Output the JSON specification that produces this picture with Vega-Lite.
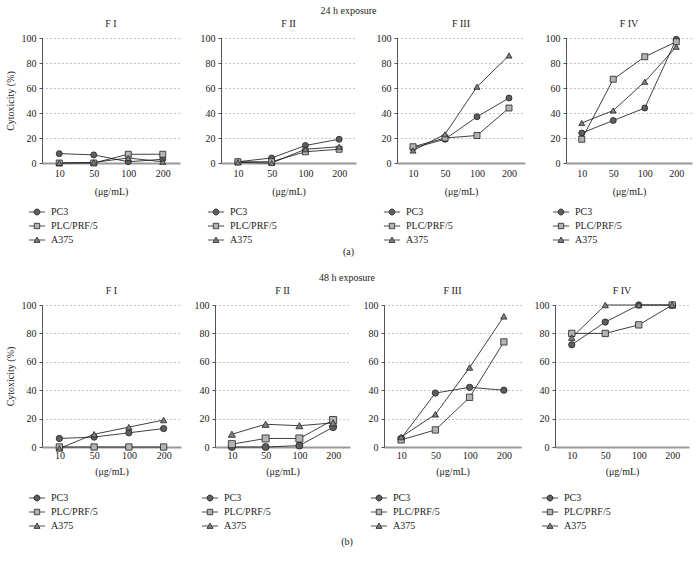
{
  "$schema": "https://vega.github.io/schema/vega-lite/v6.json",
  "padding": {"left": 5, "right": 5, "top": 6, "bottom": 5},
  "background": "white",
  "data": {"values": [
    {"exposure":"24h","panel":"F I","line":"PC3","conc":"10","value":7.5},
    {"exposure":"24h","panel":"F I","line":"PC3","conc":"50","value":6.5},
    {"exposure":"24h","panel":"F I","line":"PC3","conc":"100","value":1},
    {"exposure":"24h","panel":"F I","line":"PC3","conc":"200","value":3},
    {"exposure":"24h","panel":"F I","line":"PLC/PRF/5","conc":"10","value":0},
    {"exposure":"24h","panel":"F I","line":"PLC/PRF/5","conc":"50","value":0},
    {"exposure":"24h","panel":"F I","line":"PLC/PRF/5","conc":"100","value":7},
    {"exposure":"24h","panel":"F I","line":"PLC/PRF/5","conc":"200","value":7},
    {"exposure":"24h","panel":"F I","line":"A375","conc":"10","value":0},
    {"exposure":"24h","panel":"F I","line":"A375","conc":"50","value":0.5},
    {"exposure":"24h","panel":"F I","line":"A375","conc":"100","value":4},
    {"exposure":"24h","panel":"F I","line":"A375","conc":"200","value":1},
    {"exposure":"24h","panel":"F II","line":"PC3","conc":"10","value":1},
    {"exposure":"24h","panel":"F II","line":"PC3","conc":"50","value":4},
    {"exposure":"24h","panel":"F II","line":"PC3","conc":"100","value":14},
    {"exposure":"24h","panel":"F II","line":"PC3","conc":"200","value":19},
    {"exposure":"24h","panel":"F II","line":"PLC/PRF/5","conc":"10","value":1},
    {"exposure":"24h","panel":"F II","line":"PLC/PRF/5","conc":"50","value":1},
    {"exposure":"24h","panel":"F II","line":"PLC/PRF/5","conc":"100","value":9},
    {"exposure":"24h","panel":"F II","line":"PLC/PRF/5","conc":"200","value":11},
    {"exposure":"24h","panel":"F II","line":"A375","conc":"10","value":0.5},
    {"exposure":"24h","panel":"F II","line":"A375","conc":"50","value":0},
    {"exposure":"24h","panel":"F II","line":"A375","conc":"100","value":11},
    {"exposure":"24h","panel":"F II","line":"A375","conc":"200","value":13},
    {"exposure":"24h","panel":"F III","line":"PC3","conc":"10","value":12},
    {"exposure":"24h","panel":"F III","line":"PC3","conc":"50","value":19},
    {"exposure":"24h","panel":"F III","line":"PC3","conc":"100","value":37},
    {"exposure":"24h","panel":"F III","line":"PC3","conc":"200","value":52},
    {"exposure":"24h","panel":"F III","line":"PLC/PRF/5","conc":"10","value":13},
    {"exposure":"24h","panel":"F III","line":"PLC/PRF/5","conc":"50","value":20},
    {"exposure":"24h","panel":"F III","line":"PLC/PRF/5","conc":"100","value":22},
    {"exposure":"24h","panel":"F III","line":"PLC/PRF/5","conc":"200","value":44},
    {"exposure":"24h","panel":"F III","line":"A375","conc":"10","value":10},
    {"exposure":"24h","panel":"F III","line":"A375","conc":"50","value":23},
    {"exposure":"24h","panel":"F III","line":"A375","conc":"100","value":61},
    {"exposure":"24h","panel":"F III","line":"A375","conc":"200","value":86},
    {"exposure":"24h","panel":"F IV","line":"PC3","conc":"10","value":24},
    {"exposure":"24h","panel":"F IV","line":"PC3","conc":"50","value":34},
    {"exposure":"24h","panel":"F IV","line":"PC3","conc":"100","value":44},
    {"exposure":"24h","panel":"F IV","line":"PC3","conc":"200","value":99},
    {"exposure":"24h","panel":"F IV","line":"PLC/PRF/5","conc":"10","value":19},
    {"exposure":"24h","panel":"F IV","line":"PLC/PRF/5","conc":"50","value":67},
    {"exposure":"24h","panel":"F IV","line":"PLC/PRF/5","conc":"100","value":85},
    {"exposure":"24h","panel":"F IV","line":"PLC/PRF/5","conc":"200","value":97},
    {"exposure":"24h","panel":"F IV","line":"A375","conc":"10","value":32},
    {"exposure":"24h","panel":"F IV","line":"A375","conc":"50","value":42},
    {"exposure":"24h","panel":"F IV","line":"A375","conc":"100","value":65},
    {"exposure":"24h","panel":"F IV","line":"A375","conc":"200","value":93},
    {"exposure":"48h","panel":"F I","line":"PC3","conc":"10","value":6},
    {"exposure":"48h","panel":"F I","line":"PC3","conc":"50","value":7},
    {"exposure":"48h","panel":"F I","line":"PC3","conc":"100","value":10},
    {"exposure":"48h","panel":"F I","line":"PC3","conc":"200","value":13},
    {"exposure":"48h","panel":"F I","line":"PLC/PRF/5","conc":"10","value":0},
    {"exposure":"48h","panel":"F I","line":"PLC/PRF/5","conc":"50","value":0},
    {"exposure":"48h","panel":"F I","line":"PLC/PRF/5","conc":"100","value":0},
    {"exposure":"48h","panel":"F I","line":"PLC/PRF/5","conc":"200","value":0},
    {"exposure":"48h","panel":"F I","line":"A375","conc":"10","value":-1},
    {"exposure":"48h","panel":"F I","line":"A375","conc":"50","value":9},
    {"exposure":"48h","panel":"F I","line":"A375","conc":"100","value":14},
    {"exposure":"48h","panel":"F I","line":"A375","conc":"200","value":19},
    {"exposure":"48h","panel":"F II","line":"PC3","conc":"10","value":0},
    {"exposure":"48h","panel":"F II","line":"PC3","conc":"50","value":0},
    {"exposure":"48h","panel":"F II","line":"PC3","conc":"100","value":1},
    {"exposure":"48h","panel":"F II","line":"PC3","conc":"200","value":14},
    {"exposure":"48h","panel":"F II","line":"PLC/PRF/5","conc":"10","value":2},
    {"exposure":"48h","panel":"F II","line":"PLC/PRF/5","conc":"50","value":6},
    {"exposure":"48h","panel":"F II","line":"PLC/PRF/5","conc":"100","value":6},
    {"exposure":"48h","panel":"F II","line":"PLC/PRF/5","conc":"200","value":19},
    {"exposure":"48h","panel":"F II","line":"A375","conc":"10","value":9},
    {"exposure":"48h","panel":"F II","line":"A375","conc":"50","value":16},
    {"exposure":"48h","panel":"F II","line":"A375","conc":"100","value":15},
    {"exposure":"48h","panel":"F II","line":"A375","conc":"200","value":17},
    {"exposure":"48h","panel":"F III","line":"PC3","conc":"10","value":6},
    {"exposure":"48h","panel":"F III","line":"PC3","conc":"50","value":38},
    {"exposure":"48h","panel":"F III","line":"PC3","conc":"100","value":42},
    {"exposure":"48h","panel":"F III","line":"PC3","conc":"200","value":40},
    {"exposure":"48h","panel":"F III","line":"PLC/PRF/5","conc":"10","value":5},
    {"exposure":"48h","panel":"F III","line":"PLC/PRF/5","conc":"50","value":12},
    {"exposure":"48h","panel":"F III","line":"PLC/PRF/5","conc":"100","value":35},
    {"exposure":"48h","panel":"F III","line":"PLC/PRF/5","conc":"200","value":74},
    {"exposure":"48h","panel":"F III","line":"A375","conc":"10","value":7},
    {"exposure":"48h","panel":"F III","line":"A375","conc":"50","value":23},
    {"exposure":"48h","panel":"F III","line":"A375","conc":"100","value":56},
    {"exposure":"48h","panel":"F III","line":"A375","conc":"200","value":92},
    {"exposure":"48h","panel":"F IV","line":"PC3","conc":"10","value":72},
    {"exposure":"48h","panel":"F IV","line":"PC3","conc":"50","value":88},
    {"exposure":"48h","panel":"F IV","line":"PC3","conc":"100","value":100},
    {"exposure":"48h","panel":"F IV","line":"PC3","conc":"200","value":100},
    {"exposure":"48h","panel":"F IV","line":"PLC/PRF/5","conc":"10","value":80},
    {"exposure":"48h","panel":"F IV","line":"PLC/PRF/5","conc":"50","value":80},
    {"exposure":"48h","panel":"F IV","line":"PLC/PRF/5","conc":"100","value":86},
    {"exposure":"48h","panel":"F IV","line":"PLC/PRF/5","conc":"200","value":100},
    {"exposure":"48h","panel":"F IV","line":"A375","conc":"10","value":77},
    {"exposure":"48h","panel":"F IV","line":"A375","conc":"50","value":100},
    {"exposure":"48h","panel":"F IV","line":"A375","conc":"100","value":100},
    {"exposure":"48h","panel":"F IV","line":"A375","conc":"200","value":100}
  ]},
  "spacing": 16,
  "vconcat": [
    {
      "title": {"text": "(a)", "orient": "bottom", "anchor": "middle", "offset": 2},
      "vconcat": [{
        "title": {"text": "24 h exposure", "anchor": "middle", "offset": 3},
        "spacing": 20,
        "resolve": {"scale": {"shape": "independent", "color": "independent"}},
        "hconcat": [
          {"title": "F I", "width": 138, "height": 125,
           "transform": [{"filter": "datum.exposure === '24h' && datum.panel === 'F I'"}],
           "encoding": {
             "x": {"field": "conc", "type": "ordinal", "sort": ["10","50","100","200"], "scale": {"type": "point", "padding": 0.5}, "axis": {"title": "(μg/mL)"}},
             "y": {"field": "value", "type": "quantitative", "scale": {"domain": [0, 100]}, "axis": {"title": "Cytoxicity (%)"}}
           },
           "resolve": {"scale": {"shape": "independent", "color": "independent"}},
           "layer": [
             {"mark": {"type": "line", "color": "#111", "strokeWidth": 0.8}, "encoding": {"detail": {"field": "line"}}},
             {"mark": {"type": "point", "filled": true, "size": 36, "stroke": "#222", "strokeWidth": 0.8, "opacity": 1},
              "encoding": {
                "shape": {"field": "line", "type": "nominal", "scale": {"domain": ["PC3","PLC/PRF/5","A375"], "range": ["circle","square","triangle-up"]}, "legend": null},
                "color": {"field": "line", "type": "nominal", "scale": {"domain": ["PC3","PLC/PRF/5","A375"], "range": ["#5e5e5e","#b3b3b3","#808080"]}, "legend": null}
              }},
             {"mark": {"type": "point", "filled": true, "size": 36, "stroke": "#222", "strokeWidth": 0.8, "opacity": 0},
              "encoding": {
                "shape": {"field": "line", "type": "nominal", "scale": {"domain": ["PC3","PLC/PRF/5","A375"], "range": ["M-2.7,0H-1M1,0H2.7M1,0A1,1,0,1,1,-1,0A1,1,0,1,1,1,0Z","M-2.7,0H-0.9M0.9,0H2.7M-0.9,-0.9H0.9V0.9H-0.9Z","M-2.7,0H-0.56M0.56,0H2.7M0,-1L1,0.8H-1Z"]},
                  "legend": {"title": null, "orient": "none", "legendX": -10, "legendY": 169, "direction": "vertical",
                    "encode": {"symbols": {"update": {"stroke": {"value": "#222"}, "strokeWidth": {"value": 0.8}, "strokeOpacity": {"value": 1}, "opacity": {"value": 1}}}}}},
                "color": {"field": "line", "type": "nominal", "scale": {"domain": ["PC3","PLC/PRF/5","A375"], "range": ["#5e5e5e","#b3b3b3","#808080"]},
                  "legend": {"title": null, "orient": "none", "legendX": -10, "legendY": 169, "direction": "vertical",
                    "encode": {"symbols": {"update": {"stroke": {"value": "#222"}, "strokeWidth": {"value": 0.8}, "strokeOpacity": {"value": 1}, "opacity": {"value": 1}}}}}}
              }}
           ]},
          {"title": "F II", "width": 135, "height": 125,
           "transform": [{"filter": "datum.exposure === '24h' && datum.panel === 'F II'"}],
           "encoding": {
             "x": {"field": "conc", "type": "ordinal", "sort": ["10","50","100","200"], "scale": {"type": "point", "padding": 0.5}, "axis": {"title": "(μg/mL)"}},
             "y": {"field": "value", "type": "quantitative", "scale": {"domain": [0, 100]}, "axis": {"title": null}}
           },
           "resolve": {"scale": {"shape": "independent", "color": "independent"}},
           "layer": [
             {"mark": {"type": "line", "color": "#111", "strokeWidth": 0.8}, "encoding": {"detail": {"field": "line"}}},
             {"mark": {"type": "point", "filled": true, "size": 36, "stroke": "#222", "strokeWidth": 0.8, "opacity": 1},
              "encoding": {
                "shape": {"field": "line", "type": "nominal", "scale": {"domain": ["PC3","PLC/PRF/5","A375"], "range": ["circle","square","triangle-up"]}, "legend": null},
                "color": {"field": "line", "type": "nominal", "scale": {"domain": ["PC3","PLC/PRF/5","A375"], "range": ["#5e5e5e","#b3b3b3","#808080"]}, "legend": null}
              }},
             {"mark": {"type": "point", "filled": true, "size": 36, "stroke": "#222", "strokeWidth": 0.8, "opacity": 0},
              "encoding": {
                "shape": {"field": "line", "type": "nominal", "scale": {"domain": ["PC3","PLC/PRF/5","A375"], "range": ["M-2.7,0H-1M1,0H2.7M1,0A1,1,0,1,1,-1,0A1,1,0,1,1,1,0Z","M-2.7,0H-0.9M0.9,0H2.7M-0.9,-0.9H0.9V0.9H-0.9Z","M-2.7,0H-0.56M0.56,0H2.7M0,-1L1,0.8H-1Z"]},
                  "legend": {"title": null, "orient": "none", "legendX": -10, "legendY": 169, "direction": "vertical",
                    "encode": {"symbols": {"update": {"stroke": {"value": "#222"}, "strokeWidth": {"value": 0.8}, "strokeOpacity": {"value": 1}, "opacity": {"value": 1}}}}}},
                "color": {"field": "line", "type": "nominal", "scale": {"domain": ["PC3","PLC/PRF/5","A375"], "range": ["#5e5e5e","#b3b3b3","#808080"]},
                  "legend": {"title": null, "orient": "none", "legendX": -10, "legendY": 169, "direction": "vertical",
                    "encode": {"symbols": {"update": {"stroke": {"value": "#222"}, "strokeWidth": {"value": 0.8}, "strokeOpacity": {"value": 1}, "opacity": {"value": 1}}}}}}
              }}
           ]},
          {"title": "F III", "width": 128, "height": 125,
           "transform": [{"filter": "datum.exposure === '24h' && datum.panel === 'F III'"}],
           "encoding": {
             "x": {"field": "conc", "type": "ordinal", "sort": ["10","50","100","200"], "scale": {"type": "point", "padding": 0.5}, "axis": {"title": "(μg/mL)"}},
             "y": {"field": "value", "type": "quantitative", "scale": {"domain": [0, 100]}, "axis": {"title": null}}
           },
           "resolve": {"scale": {"shape": "independent", "color": "independent"}},
           "layer": [
             {"mark": {"type": "line", "color": "#111", "strokeWidth": 0.8}, "encoding": {"detail": {"field": "line"}}},
             {"mark": {"type": "point", "filled": true, "size": 36, "stroke": "#222", "strokeWidth": 0.8, "opacity": 1},
              "encoding": {
                "shape": {"field": "line", "type": "nominal", "scale": {"domain": ["PC3","PLC/PRF/5","A375"], "range": ["circle","square","triangle-up"]}, "legend": null},
                "color": {"field": "line", "type": "nominal", "scale": {"domain": ["PC3","PLC/PRF/5","A375"], "range": ["#5e5e5e","#b3b3b3","#808080"]}, "legend": null}
              }},
             {"mark": {"type": "point", "filled": true, "size": 36, "stroke": "#222", "strokeWidth": 0.8, "opacity": 0},
              "encoding": {
                "shape": {"field": "line", "type": "nominal", "scale": {"domain": ["PC3","PLC/PRF/5","A375"], "range": ["M-2.7,0H-1M1,0H2.7M1,0A1,1,0,1,1,-1,0A1,1,0,1,1,1,0Z","M-2.7,0H-0.9M0.9,0H2.7M-0.9,-0.9H0.9V0.9H-0.9Z","M-2.7,0H-0.56M0.56,0H2.7M0,-1L1,0.8H-1Z"]},
                  "legend": {"title": null, "orient": "none", "legendX": -10, "legendY": 169, "direction": "vertical",
                    "encode": {"symbols": {"update": {"stroke": {"value": "#222"}, "strokeWidth": {"value": 0.8}, "strokeOpacity": {"value": 1}, "opacity": {"value": 1}}}}}},
                "color": {"field": "line", "type": "nominal", "scale": {"domain": ["PC3","PLC/PRF/5","A375"], "range": ["#5e5e5e","#b3b3b3","#808080"]},
                  "legend": {"title": null, "orient": "none", "legendX": -10, "legendY": 169, "direction": "vertical",
                    "encode": {"symbols": {"update": {"stroke": {"value": "#222"}, "strokeWidth": {"value": 0.8}, "strokeOpacity": {"value": 1}, "opacity": {"value": 1}}}}}}
              }}
           ]},
          {"title": "F IV", "width": 126, "height": 125,
           "transform": [{"filter": "datum.exposure === '24h' && datum.panel === 'F IV'"}],
           "encoding": {
             "x": {"field": "conc", "type": "ordinal", "sort": ["10","50","100","200"], "scale": {"type": "point", "padding": 0.5}, "axis": {"title": "(μg/mL)"}},
             "y": {"field": "value", "type": "quantitative", "scale": {"domain": [0, 100]}, "axis": {"title": null}}
           },
           "resolve": {"scale": {"shape": "independent", "color": "independent"}},
           "layer": [
             {"mark": {"type": "line", "color": "#111", "strokeWidth": 0.8}, "encoding": {"detail": {"field": "line"}}},
             {"mark": {"type": "point", "filled": true, "size": 36, "stroke": "#222", "strokeWidth": 0.8, "opacity": 1},
              "encoding": {
                "shape": {"field": "line", "type": "nominal", "scale": {"domain": ["PC3","PLC/PRF/5","A375"], "range": ["circle","square","triangle-up"]}, "legend": null},
                "color": {"field": "line", "type": "nominal", "scale": {"domain": ["PC3","PLC/PRF/5","A375"], "range": ["#5e5e5e","#b3b3b3","#808080"]}, "legend": null}
              }},
             {"mark": {"type": "point", "filled": true, "size": 36, "stroke": "#222", "strokeWidth": 0.8, "opacity": 0},
              "encoding": {
                "shape": {"field": "line", "type": "nominal", "scale": {"domain": ["PC3","PLC/PRF/5","A375"], "range": ["M-2.7,0H-1M1,0H2.7M1,0A1,1,0,1,1,-1,0A1,1,0,1,1,1,0Z","M-2.7,0H-0.9M0.9,0H2.7M-0.9,-0.9H0.9V0.9H-0.9Z","M-2.7,0H-0.56M0.56,0H2.7M0,-1L1,0.8H-1Z"]},
                  "legend": {"title": null, "orient": "none", "legendX": -10, "legendY": 169, "direction": "vertical",
                    "encode": {"symbols": {"update": {"stroke": {"value": "#222"}, "strokeWidth": {"value": 0.8}, "strokeOpacity": {"value": 1}, "opacity": {"value": 1}}}}}},
                "color": {"field": "line", "type": "nominal", "scale": {"domain": ["PC3","PLC/PRF/5","A375"], "range": ["#5e5e5e","#b3b3b3","#808080"]},
                  "legend": {"title": null, "orient": "none", "legendX": -10, "legendY": 169, "direction": "vertical",
                    "encode": {"symbols": {"update": {"stroke": {"value": "#222"}, "strokeWidth": {"value": 0.8}, "strokeOpacity": {"value": 1}, "opacity": {"value": 1}}}}}}
              }}
           ]}
        ]
      }]
    },
    {
      "title": {"text": "(b)", "orient": "bottom", "anchor": "middle", "offset": 6},
      "vconcat": [{
        "title": {"text": "48 h exposure", "anchor": "middle", "offset": 3},
        "spacing": 13,
        "resolve": {"scale": {"shape": "independent", "color": "independent"}},
        "hconcat": [
          {"title": "F I", "width": 139, "height": 142,
           "transform": [{"filter": "datum.exposure === '48h' && datum.panel === 'F I'"}],
           "encoding": {
             "x": {"field": "conc", "type": "ordinal", "sort": ["10","50","100","200"], "scale": {"type": "point", "padding": 0.5}, "axis": {"title": "(μg/mL)", "titlePadding": 6, "labelPadding": 3}},
             "y": {"field": "value", "type": "quantitative", "scale": {"domain": [0, 100]}, "axis": {"title": "Cytoxicity (%)"}}
           },
           "resolve": {"scale": {"shape": "independent", "color": "independent"}},
           "layer": [
             {"mark": {"type": "line", "color": "#111", "strokeWidth": 0.8}, "encoding": {"detail": {"field": "line"}}},
             {"mark": {"type": "point", "filled": true, "size": 40, "stroke": "#222", "strokeWidth": 0.8, "opacity": 1},
              "encoding": {
                "shape": {"field": "line", "type": "nominal", "scale": {"domain": ["PC3","PLC/PRF/5","A375"], "range": ["circle","square","triangle-up"]}, "legend": null},
                "color": {"field": "line", "type": "nominal", "scale": {"domain": ["PC3","PLC/PRF/5","A375"], "range": ["#5e5e5e","#b3b3b3","#808080"]}, "legend": null}
              }},
             {"mark": {"type": "point", "filled": true, "size": 36, "stroke": "#222", "strokeWidth": 0.8, "opacity": 0},
              "encoding": {
                "shape": {"field": "line", "type": "nominal", "scale": {"domain": ["PC3","PLC/PRF/5","A375"], "range": ["M-2.7,0H-1M1,0H2.7M1,0A1,1,0,1,1,-1,0A1,1,0,1,1,1,0Z","M-2.7,0H-0.9M0.9,0H2.7M-0.9,-0.9H0.9V0.9H-0.9Z","M-2.7,0H-0.56M0.56,0H2.7M0,-1L1,0.8H-1Z"]},
                  "legend": {"title": null, "orient": "none", "legendX": -10, "legendY": 188, "direction": "vertical",
                    "encode": {"symbols": {"update": {"stroke": {"value": "#222"}, "strokeWidth": {"value": 0.8}, "strokeOpacity": {"value": 1}, "opacity": {"value": 1}}}}}},
                "color": {"field": "line", "type": "nominal", "scale": {"domain": ["PC3","PLC/PRF/5","A375"], "range": ["#5e5e5e","#b3b3b3","#808080"]},
                  "legend": {"title": null, "orient": "none", "legendX": -10, "legendY": 188, "direction": "vertical",
                    "encode": {"symbols": {"update": {"stroke": {"value": "#222"}, "strokeWidth": {"value": 0.8}, "strokeOpacity": {"value": 1}, "opacity": {"value": 1}}}}}}
              }}
           ]},
          {"title": "F II", "width": 135, "height": 142,
           "transform": [{"filter": "datum.exposure === '48h' && datum.panel === 'F II'"}],
           "encoding": {
             "x": {"field": "conc", "type": "ordinal", "sort": ["10","50","100","200"], "scale": {"type": "point", "padding": 0.5}, "axis": {"title": "(μg/mL)", "titlePadding": 6, "labelPadding": 3}},
             "y": {"field": "value", "type": "quantitative", "scale": {"domain": [0, 100]}, "axis": {"title": null}}
           },
           "resolve": {"scale": {"shape": "independent", "color": "independent"}},
           "layer": [
             {"mark": {"type": "line", "color": "#111", "strokeWidth": 0.8}, "encoding": {"detail": {"field": "line"}}},
             {"mark": {"type": "point", "filled": true, "size": 50, "stroke": "#222", "strokeWidth": 0.8, "opacity": 1},
              "encoding": {
                "shape": {"field": "line", "type": "nominal", "scale": {"domain": ["PC3","PLC/PRF/5","A375"], "range": ["circle","square","triangle-up"]}, "legend": null},
                "color": {"field": "line", "type": "nominal", "scale": {"domain": ["PC3","PLC/PRF/5","A375"], "range": ["#5e5e5e","#b3b3b3","#808080"]}, "legend": null}
              }},
             {"mark": {"type": "point", "filled": true, "size": 36, "stroke": "#222", "strokeWidth": 0.8, "opacity": 0},
              "encoding": {
                "shape": {"field": "line", "type": "nominal", "scale": {"domain": ["PC3","PLC/PRF/5","A375"], "range": ["M-2.7,0H-1M1,0H2.7M1,0A1,1,0,1,1,-1,0A1,1,0,1,1,1,0Z","M-2.7,0H-0.9M0.9,0H2.7M-0.9,-0.9H0.9V0.9H-0.9Z","M-2.7,0H-0.56M0.56,0H2.7M0,-1L1,0.8H-1Z"]},
                  "legend": {"title": null, "orient": "none", "legendX": -10, "legendY": 188, "direction": "vertical",
                    "encode": {"symbols": {"update": {"stroke": {"value": "#222"}, "strokeWidth": {"value": 0.8}, "strokeOpacity": {"value": 1}, "opacity": {"value": 1}}}}}},
                "color": {"field": "line", "type": "nominal", "scale": {"domain": ["PC3","PLC/PRF/5","A375"], "range": ["#5e5e5e","#b3b3b3","#808080"]},
                  "legend": {"title": null, "orient": "none", "legendX": -10, "legendY": 188, "direction": "vertical",
                    "encode": {"symbols": {"update": {"stroke": {"value": "#222"}, "strokeWidth": {"value": 0.8}, "strokeOpacity": {"value": 1}, "opacity": {"value": 1}}}}}}
              }}
           ]},
          {"title": "F III", "width": 137, "height": 142,
           "transform": [{"filter": "datum.exposure === '48h' && datum.panel === 'F III'"}],
           "encoding": {
             "x": {"field": "conc", "type": "ordinal", "sort": ["10","50","100","200"], "scale": {"type": "point", "padding": 0.5}, "axis": {"title": "(μg/mL)", "titlePadding": 6, "labelPadding": 3}},
             "y": {"field": "value", "type": "quantitative", "scale": {"domain": [0, 100]}, "axis": {"title": null}}
           },
           "resolve": {"scale": {"shape": "independent", "color": "independent"}},
           "layer": [
             {"mark": {"type": "line", "color": "#111", "strokeWidth": 0.8}, "encoding": {"detail": {"field": "line"}}},
             {"mark": {"type": "point", "filled": true, "size": 40, "stroke": "#222", "strokeWidth": 0.8, "opacity": 1},
              "encoding": {
                "shape": {"field": "line", "type": "nominal", "scale": {"domain": ["PC3","PLC/PRF/5","A375"], "range": ["circle","square","triangle-up"]}, "legend": null},
                "color": {"field": "line", "type": "nominal", "scale": {"domain": ["PC3","PLC/PRF/5","A375"], "range": ["#5e5e5e","#b3b3b3","#808080"]}, "legend": null}
              }},
             {"mark": {"type": "point", "filled": true, "size": 36, "stroke": "#222", "strokeWidth": 0.8, "opacity": 0},
              "encoding": {
                "shape": {"field": "line", "type": "nominal", "scale": {"domain": ["PC3","PLC/PRF/5","A375"], "range": ["M-2.7,0H-1M1,0H2.7M1,0A1,1,0,1,1,-1,0A1,1,0,1,1,1,0Z","M-2.7,0H-0.9M0.9,0H2.7M-0.9,-0.9H0.9V0.9H-0.9Z","M-2.7,0H-0.56M0.56,0H2.7M0,-1L1,0.8H-1Z"]},
                  "legend": {"title": null, "orient": "none", "legendX": -10, "legendY": 188, "direction": "vertical",
                    "encode": {"symbols": {"update": {"stroke": {"value": "#222"}, "strokeWidth": {"value": 0.8}, "strokeOpacity": {"value": 1}, "opacity": {"value": 1}}}}}},
                "color": {"field": "line", "type": "nominal", "scale": {"domain": ["PC3","PLC/PRF/5","A375"], "range": ["#5e5e5e","#b3b3b3","#808080"]},
                  "legend": {"title": null, "orient": "none", "legendX": -10, "legendY": 188, "direction": "vertical",
                    "encode": {"symbols": {"update": {"stroke": {"value": "#222"}, "strokeWidth": {"value": 0.8}, "strokeOpacity": {"value": 1}, "opacity": {"value": 1}}}}}}
              }}
           ]},
          {"title": "F IV", "width": 134, "height": 142,
           "transform": [{"filter": "datum.exposure === '48h' && datum.panel === 'F IV'"}],
           "encoding": {
             "x": {"field": "conc", "type": "ordinal", "sort": ["10","50","100","200"], "scale": {"type": "point", "padding": 0.5}, "axis": {"title": "(μg/mL)", "titlePadding": 6, "labelPadding": 3}},
             "y": {"field": "value", "type": "quantitative", "scale": {"domain": [0, 100]}, "axis": {"title": null}}
           },
           "resolve": {"scale": {"shape": "independent", "color": "independent"}},
           "layer": [
             {"mark": {"type": "line", "color": "#111", "strokeWidth": 0.8}, "encoding": {"detail": {"field": "line"}}},
             {"mark": {"type": "point", "filled": true, "size": 40, "stroke": "#222", "strokeWidth": 0.8, "opacity": 1},
              "encoding": {
                "shape": {"field": "line", "type": "nominal", "scale": {"domain": ["PC3","PLC/PRF/5","A375"], "range": ["circle","square","triangle-up"]}, "legend": null},
                "color": {"field": "line", "type": "nominal", "scale": {"domain": ["PC3","PLC/PRF/5","A375"], "range": ["#5e5e5e","#b3b3b3","#808080"]}, "legend": null}
              }},
             {"mark": {"type": "point", "filled": true, "size": 36, "stroke": "#222", "strokeWidth": 0.8, "opacity": 0},
              "encoding": {
                "shape": {"field": "line", "type": "nominal", "scale": {"domain": ["PC3","PLC/PRF/5","A375"], "range": ["M-2.7,0H-1M1,0H2.7M1,0A1,1,0,1,1,-1,0A1,1,0,1,1,1,0Z","M-2.7,0H-0.9M0.9,0H2.7M-0.9,-0.9H0.9V0.9H-0.9Z","M-2.7,0H-0.56M0.56,0H2.7M0,-1L1,0.8H-1Z"]},
                  "legend": {"title": null, "orient": "none", "legendX": -10, "legendY": 188, "direction": "vertical",
                    "encode": {"symbols": {"update": {"stroke": {"value": "#222"}, "strokeWidth": {"value": 0.8}, "strokeOpacity": {"value": 1}, "opacity": {"value": 1}}}}}},
                "color": {"field": "line", "type": "nominal", "scale": {"domain": ["PC3","PLC/PRF/5","A375"], "range": ["#5e5e5e","#b3b3b3","#808080"]},
                  "legend": {"title": null, "orient": "none", "legendX": -10, "legendY": 188, "direction": "vertical",
                    "encode": {"symbols": {"update": {"stroke": {"value": "#222"}, "strokeWidth": {"value": 0.8}, "strokeOpacity": {"value": 1}, "opacity": {"value": 1}}}}}}
              }}
           ]}
        ]
      }]
    }
  ],
  "config": {
    "font": "Liberation Serif",
    "view": {"stroke": null},
    "title": {"font": "Liberation Serif", "fontSize": 10, "fontWeight": "normal", "color": "#222", "offset": 4},
    "axis": {"labelFont": "Liberation Serif", "titleFont": "Liberation Serif", "labelFontSize": 10, "titleFontSize": 10, "titleFontWeight": "normal", "labelColor": "#222", "titleColor": "#222"},
    "axisX": {"domainColor": "#999", "domainWidth": 2, "ticks": false, "grid": false, "labelAngle": 0, "labelPadding": 5, "titlePadding": 8},
    "axisY": {"domainColor": "#555", "tickColor": "#555", "tickSize": 3, "gridDash": [1, 3], "gridColor": "#888", "values": [0, 20, 40, 60, 80, 100], "labelPadding": 3, "titlePadding": 6},
    "legend": {"labelFont": "Liberation Serif", "labelFontSize": 10, "labelColor": "#222", "symbolStrokeColor": "#222", "symbolStrokeWidth": 0.8, "symbolSize": 36, "symbolOpacity": 1, "rowPadding": 4, "labelOffset": 9}
  }
}
